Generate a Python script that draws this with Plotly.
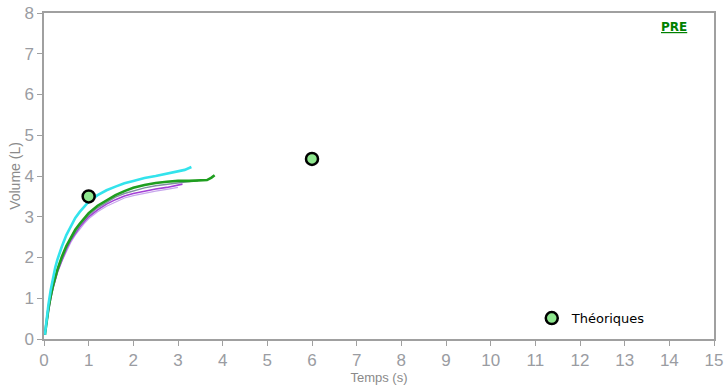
import plotly.graph_objects as go

# Courbes volume-temps (L en fonction de s)
t_cyan = [0.02, 0.05, 0.1, 0.15, 0.2, 0.25, 0.3, 0.35, 0.4, 0.5, 0.6, 0.7, 0.8, 0.9, 1.0, 1.2, 1.4, 1.6, 1.8, 2.0, 2.25, 2.5, 2.75, 3.0, 3.15, 3.3]
v_cyan = [0.1, 0.45, 0.85, 1.2, 1.5, 1.75, 1.95, 2.12, 2.27, 2.55, 2.78, 2.97, 3.12, 3.26, 3.37, 3.53, 3.65, 3.74, 3.82, 3.88, 3.95, 4.0, 4.06, 4.11, 4.15, 4.22]

t_green = [0.02, 0.05, 0.1, 0.15, 0.2, 0.3, 0.4, 0.5, 0.6, 0.7, 0.8, 0.9, 1.0, 1.2, 1.4, 1.6, 1.8, 2.0, 2.25, 2.5, 2.75, 3.0, 3.25, 3.5, 3.65, 3.75, 3.82]
v_green = [0.1, 0.38, 0.75, 1.05, 1.3, 1.7, 2.02, 2.28, 2.5, 2.68, 2.83, 2.97, 3.09, 3.27, 3.41, 3.53, 3.63, 3.71, 3.78, 3.83, 3.86, 3.88, 3.88, 3.89, 3.9, 3.96, 4.02]

t_purple = [0.02, 0.05, 0.1, 0.15, 0.2, 0.3, 0.4, 0.5, 0.6, 0.7, 0.8, 0.9, 1.0, 1.2, 1.4, 1.6, 1.8, 2.0, 2.25, 2.5, 2.75, 3.0, 3.1]
v_purple = [0.1, 0.35, 0.7, 1.0, 1.25, 1.65, 1.95, 2.2, 2.42, 2.6, 2.75, 2.88, 3.0, 3.17, 3.31, 3.42, 3.51, 3.57, 3.63, 3.68, 3.72, 3.77, 3.8]

t_lavender = [0.02, 0.05, 0.1, 0.15, 0.2, 0.3, 0.4, 0.5, 0.6, 0.7, 0.8, 0.9, 1.0, 1.2, 1.4, 1.6, 1.8, 2.0, 2.25, 2.5, 2.75, 3.0]
v_lavender = [0.1, 0.33, 0.67, 0.97, 1.22, 1.61, 1.91, 2.15, 2.37, 2.55, 2.7, 2.83, 2.95, 3.12, 3.26, 3.37, 3.46, 3.52, 3.58, 3.63, 3.67, 3.72]

t_gray = [0.02, 0.05, 0.1, 0.15, 0.2, 0.3, 0.4, 0.5, 0.6, 0.7, 0.8, 0.9, 1.0, 1.2, 1.4, 1.6, 1.8, 2.0, 2.25, 2.5, 2.75, 3.0, 3.3, 3.45]
v_gray = [0.1, 0.36, 0.72, 1.02, 1.27, 1.67, 1.98, 2.24, 2.46, 2.64, 2.79, 2.92, 3.04, 3.22, 3.36, 3.48, 3.57, 3.64, 3.71, 3.76, 3.8, 3.84, 3.87, 3.88]

# Valeurs théoriques
t_theo = [1.0, 6.0]
v_theo = [3.5, 4.42]

x_ticks = list(range(0, 16))
y_ticks = list(range(0, 9))

fig = go.Figure()

curves = [
    (t_lavender, v_lavender, "#c7a6ec", 1.2),
    (t_purple, v_purple, "#a23fd6", 1.6),
    (t_gray, v_gray, "#7f8fa0", 1.4),
    (t_green, v_green, "#1f9e1f", 2.6),
    (t_cyan, v_cyan, "#33e3ec", 2.6),
]
for tx, vy, color, width in curves:
    fig.add_trace(go.Scatter(
        x=tx, y=vy, mode="lines", showlegend=False, hoverinfo="skip",
        line=dict(color=color, width=width),
    ))

fig.add_trace(go.Scatter(
    x=t_theo, y=v_theo, mode="markers", name="Théoriques",
    marker=dict(size=12, color="#8ee68e", line=dict(color="#000000", width=2.5)),
))

fig.add_annotation(
    text="<b><u>PRE</u></b>", xref="paper", yref="paper", x=0.94, y=0.957,
    xanchor="center", yanchor="middle", showarrow=False,
    font=dict(family="DejaVu Sans", size=12, color="#008000"),
)

axis_common = dict(
    showgrid=False, zeroline=False, showline=True, linecolor="#a0a0a0", linewidth=1.5,
    mirror=True, ticks="outside", ticklen=5, tickcolor="#a0a0a0", tickwidth=1,
    tickfont=dict(family="Liberation Sans", size=17, color="#9a9ca2"),
    automargin=False,
)

fig.update_layout(
    width=728, height=385,
    margin=dict(l=44, r=14, t=13, b=46),
    plot_bgcolor="white", paper_bgcolor="white",
    xaxis=dict(range=[0, 15], tickvals=x_ticks, ticklabelstandoff=0,
               title=dict(text="Temps (s)", standoff=0,
                          font=dict(family="Liberation Sans", size=13, color="#8a8a8a")),
               **axis_common),
    yaxis=dict(range=[0, 8], tickvals=y_ticks, ticklabelstandoff=0,
               title=dict(text="Volume (L)", standoff=0,
                          font=dict(family="Liberation Sans", size=14, color="#8a8a8a")),
               **axis_common),
    legend=dict(x=0.728, y=0.064, xanchor="left", yanchor="middle",
                bgcolor="rgba(0,0,0,0)", borderwidth=0,
                font=dict(family="DejaVu Sans", size=13, color="#000000")),
    showlegend=True,
)

fig.write_html("out.html")
